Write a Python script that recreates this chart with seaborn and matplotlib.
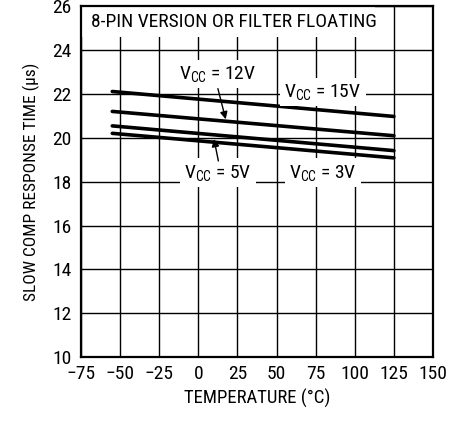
import matplotlib
matplotlib.use("Agg")
import matplotlib.pyplot as plt
from matplotlib.patches import Rectangle
import seaborn as sns
import pandas as pd

# ---- data ----
temperature = [-55, 125]
vcc15 = [22.12, 20.98]
vcc12 = [21.21, 20.10]
vcc5 = [20.55, 19.42]
vcc3 = [20.21, 19.09]
series_names = ["VCC = 15V", "VCC = 12V", "VCC = 5V", "VCC = 3V"]
x_ticks = [-75, -50, -25, 0, 25, 50, 75, 100, 125, 150]
x_ticklabels = ["\u221275", "\u221250", "\u221225", "0", "25", "50", "75", "100", "125", "150"]
y_ticks = [10, 12, 14, 16, 18, 20, 22, 24, 26]

rows = []
for name, vals in zip(series_names, [vcc15, vcc12, vcc5, vcc3]):
    for t, v in zip(temperature, vals):
        rows.append({"T": t, "time": v, "series": name})
df = pd.DataFrame(rows)

sns.set_theme(style="white")
plt.rcParams["font.family"] = ["Roboto Condensed", "DejaVu Sans"]
plt.rcParams["mathtext.fontset"] = "custom"
plt.rcParams["mathtext.rm"] = "Roboto Condensed"
plt.rcParams["mathtext.default"] = "regular"

fig = plt.figure(figsize=(4.61, 4.21), dpi=100)
ax = fig.add_axes([0.1757, 0.152, 0.7636, 0.8326])

sns.lineplot(data=df, x="T", y="time", hue="series", palette=["black"] * 4,
             linewidth=2.6, legend=False, ax=ax, zorder=3)

ax.set_xlim(-75, 150)
ax.set_ylim(10, 26)
ax.set_xticks(x_ticks)
ax.set_xticklabels(x_ticklabels)
ax.set_yticks(y_ticks)
ax.grid(True, color="black", linewidth=1.0)
ax.set_axisbelow(True)
for s in ax.spines.values():
    s.set_color("black")
    s.set_linewidth(1.6)
ax.tick_params(axis="both", length=0, labelsize=14, colors="black")
ax.tick_params(axis="x", pad=6)
ax.tick_params(axis="y", pad=7)

ax.set_xlabel("TEMPERATURE (\u00b0C)", fontsize=13.5, color="black", labelpad=4)
ax.set_ylabel("SLOW COMP RESPONSE TIME (\u00b5s)", fontsize=12.5, color="black", labelpad=9)

# white header box
ax.add_patch(Rectangle((0, 0.913), 0.835, 0.087, transform=ax.transAxes,
                       facecolor="white", edgecolor="none", zorder=1.5))
ax.text(0.027, 0.955, "8-PIN VERSION OR FILTER FLOATING", transform=ax.transAxes,
        fontsize=14, va="center", ha="left", color="black", zorder=4)

lab = dict(fontsize=14, ha="center", va="center", color="black", zorder=5,
           bbox=dict(facecolor="white", edgecolor="none", pad=3))
ax.text(12.6, 22.9, "V$_{CC}$ = 12V", **lab)
ax.text(79.7, 22.08, "V$_{CC}$ = 15V", **lab)
ax.text(12.6, 18.42, "V$_{CC}$ = 5V", **lab)
ax.text(79.7, 18.42, "V$_{CC}$ = 3V", **lab)

arrow = dict(arrowstyle="-|>", color="black", lw=1.0, mutation_scale=11,
             shrinkA=0, shrinkB=0)
ax.annotate("", xy=(17.5, 20.85), xytext=(12.5, 22.25), arrowprops=arrow, zorder=6)
ax.annotate("", xy=(10.0, 19.95), xytext=(12.8, 18.95), arrowprops=arrow, zorder=6)

fig.savefig("out.png", dpi=100)
